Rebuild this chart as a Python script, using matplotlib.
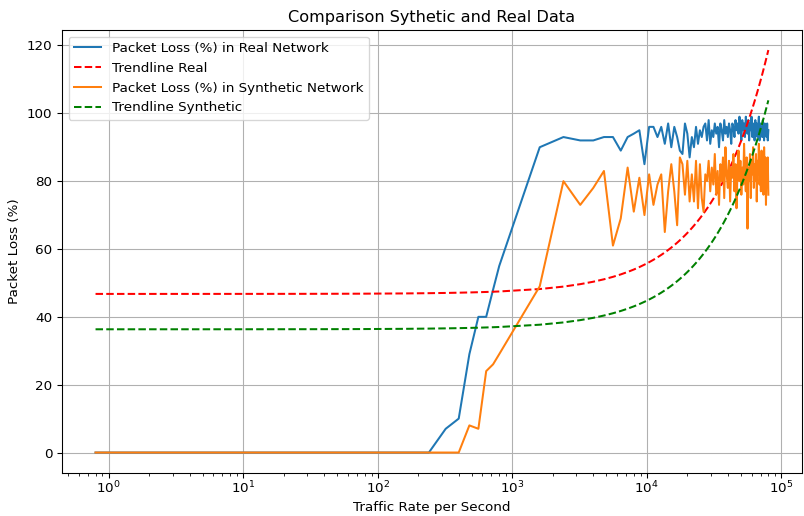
import numpy as np
import matplotlib
matplotlib.use("Agg")
import matplotlib.pyplot as plt

# traffic rates (packets per second): 0.8..7.2, 8..72, 80..720, 800..80000
traffic_rate = ([round(0.8 * k, 1) for k in range(1, 10)]
                + [8 * k for k in range(1, 10)]
                + [80 * k for k in range(1, 10)]
                + [800 * k for k in range(1, 101)])

loss_real = ([0] * 9 + [0] * 9
             + [0, 0, 0, 7, 10, 29, 40, 40, 48]
             + [55, 90, 93, 92, 92, 93, 93, 89, 93, 94, 95, 85,
                96, 96, 93, 96, 91, 97, 90, 96, 93, 89, 88, 97, 94, 87, 93, 90,
                96, 91, 95, 93, 96, 97, 92, 98, 91, 95, 93, 97, 94, 96, 90, 97,
                95, 92, 98, 94, 96, 93, 97, 95, 91, 97, 96, 93, 98, 95, 97, 94,
                99, 96, 92, 98, 95, 97, 93, 99, 96, 94, 98, 92, 97, 95, 99, 93,
                97, 96, 92, 98, 94, 97, 93, 96, 99, 92, 97, 94, 96, 93, 98, 95,
                92, 97, 94, 96, 93, 97, 92, 95])

loss_synthetic = ([0] * 9 + [0] * 9
                  + [0, 0, 0, 0, 0, 8, 7, 24, 26]
                  + [29, 49, 80, 73, 78, 83, 61, 69, 84, 71, 81, 70,
                     82, 73, 79, 82, 65, 77, 85, 77, 67, 87, 85, 76, 86, 74, 82, 74,
                     86, 72, 85, 75, 71, 82,
                     80, 86, 77, 84, 79, 88, 76, 83, 73, 85,
                     80, 87, 75, 90, 82, 78, 86, 74, 84, 81,
                     88, 77, 85, 72, 83, 89, 80, 86, 76, 84,
                     79, 91, 82, 77, 87, 66, 84, 80, 88, 75,
                     86, 82, 90, 78, 85, 80, 88, 74, 86, 82,
                     91, 79, 84, 77, 89, 81, 86, 76, 90, 82,
                     87, 73, 85, 80, 87, 76])

x = np.array(traffic_rate, dtype=float)
y_real = np.array(loss_real, dtype=float)
y_syn = np.array(loss_synthetic, dtype=float)

# linear trendlines
trend_real = np.poly1d(np.polyfit(x, y_real, 1))
trend_syn = np.poly1d(np.polyfit(x, y_syn, 1))

fig, ax = plt.subplots(figsize=(804 / 97, 516 / 97), dpi=97)
fig.subplots_adjust(left=0.077, right=0.9975, top=0.942, bottom=0.084)

ax.plot(x, y_real, label="Packet Loss (%) in Real Network")
ax.plot(x, trend_real(x), "r--", label="Trendline Real")
ax.plot(x, y_syn, label="Packet Loss (%) in Synthetic Network")
ax.plot(x, trend_syn(x), "g--", label="Trendline Synthetic")

ax.set_xscale("log")
ax.tick_params(axis="x", pad=2)
ax.set_xlabel("Traffic Rate per Second", labelpad=3)
ax.set_ylabel("Packet Loss (%)")
ax.set_title("Comparison Sythetic and Real Data")
ax.grid(True)
ax.legend(loc="upper left")

fig.savefig("out.png")
